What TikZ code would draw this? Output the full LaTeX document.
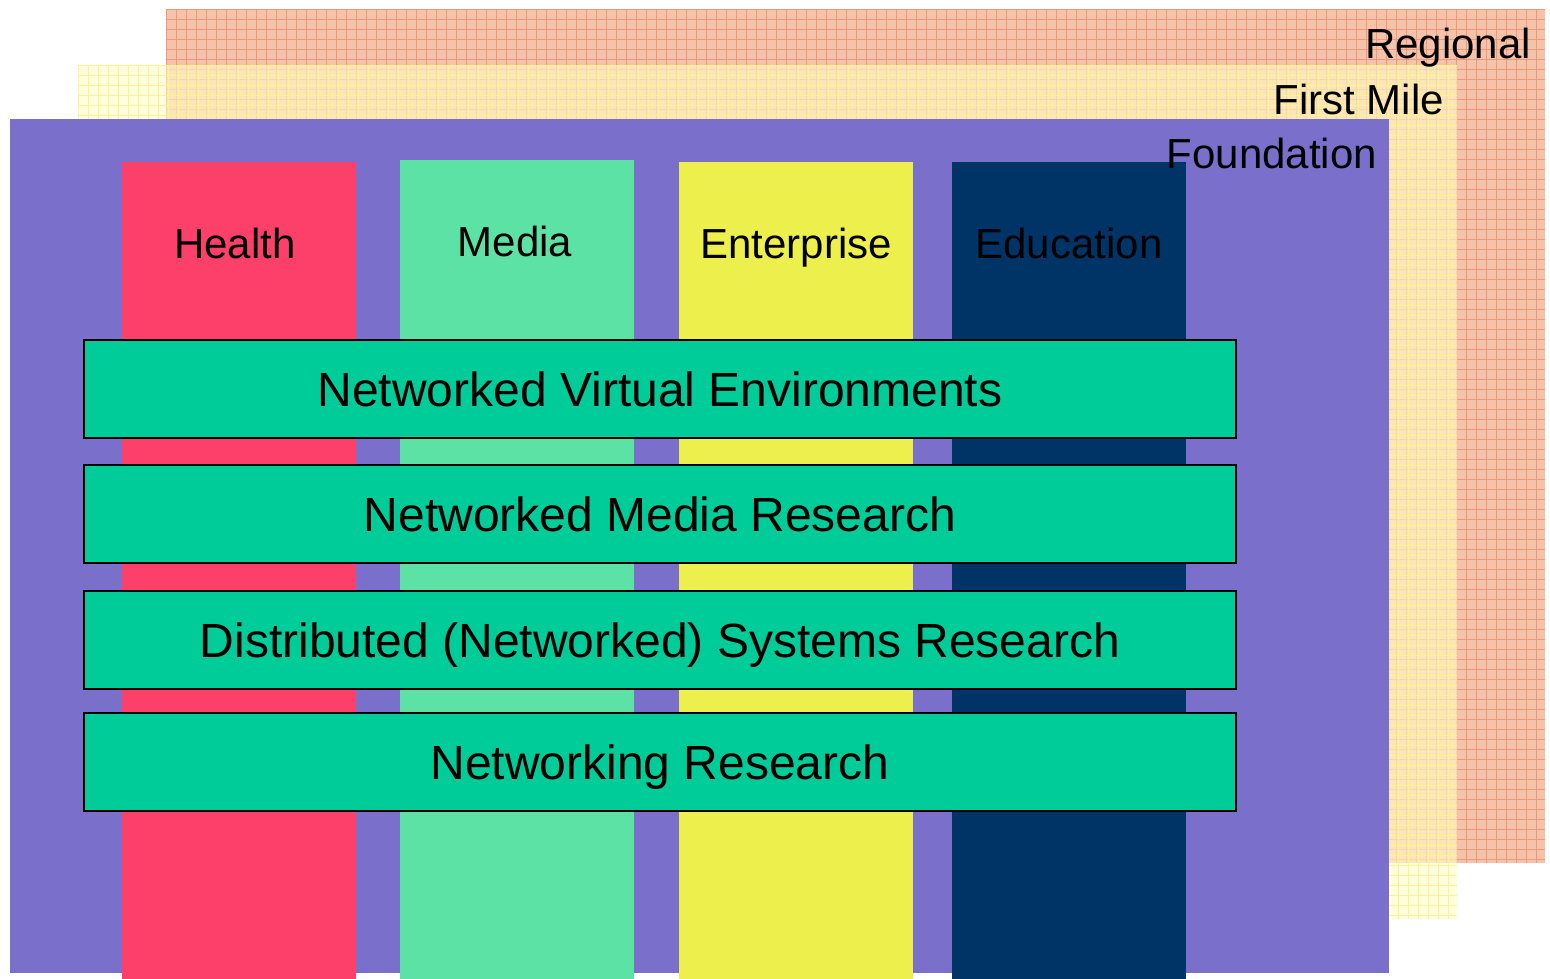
\documentclass[tikz,border=0pt]{standalone}
\usepackage{fontspec}
\setmainfont{Liberation Sans}
\definecolor{regfill}{HTML}{F5C2AA}
\definecolor{regline}{HTML}{EE9A7A}
\definecolor{fmfill}{HTML}{FFFFC6}
\definecolor{fmline}{HTML}{FFF290}
\definecolor{foundfill}{HTML}{7B6FCC}
\definecolor{healthc}{HTML}{FC4069}
\definecolor{mediac}{HTML}{5DE2A6}
\definecolor{enterc}{HTML}{ECEF4C}
\definecolor{educc}{HTML}{003366}
\definecolor{barc}{HTML}{00CC99}
\begin{document}
\begin{tikzpicture}[x=1pt,y=-1pt,
  layer/.style={anchor=north west,inner sep=0pt,outer sep=0pt,minimum width=1379pt,minimum height=854pt},
  column/.style={anchor=north west,inner sep=0pt,outer sep=0pt,minimum width=234pt,minimum height=820pt},
  bar/.style={anchor=north west,inner sep=0pt,outer sep=0pt,draw=black,line width=1.2pt,fill=barc,
    minimum width=1152pt,minimum height=98pt},
  bartext/.style={inner sep=0pt,text height=34.5pt,text depth=0pt,font=\fontsize{48}{52}\selectfont},
  coltext/.style={inner sep=0pt,text height=30.2pt,text depth=0pt,font=\fontsize{42}{46}\selectfont},
  laytext/.style={coltext,anchor=east}]
\useasboundingbox (0,0) rectangle (1550,979);

% Regional layer with its grid texture
\node[layer,fill=regfill] (regional) at (166,9) {};
\begin{scope}
  \clip (166,9) rectangle (1545,863);
  \foreach \gx in {166,176,...,1546} \draw[regline,line width=0.7pt] (\gx,9) -- (\gx,863);
  \foreach \gy in {9,19,...,864} \draw[regline,line width=0.7pt] (166,\gy) -- (1545,\gy);
\end{scope}

% First Mile layer, partly see-through
\node[layer,fill=fmfill,fill opacity=0.6] (firstmile) at (78,65) {};
\begin{scope}
  \clip (78,65) rectangle (1457,919);
  \foreach \gx in {78,88,...,1458} \draw[fmline,line width=0.9pt] (\gx,65) -- (\gx,919);
  \foreach \gy in {65,75,...,920} \draw[fmline,line width=0.9pt] (78,\gy) -- (1457,\gy);
\end{scope}

% Foundation layer
\node[layer,fill=foundfill] (foundation) at (10,119) {};

\node[laytext] (lregional) at (1531,43) {Regional};
\node[laytext] (lfirstmile) at (1444,99) {First Mile};

% Application columns
\node[column,fill=healthc] (health) at (122,162) {};
\node[column,fill=mediac] (media) at (400,160) {};
\node[column,fill=enterc] (enterprise) at (679,162) {};
\node[column,fill=educc] (education) at (952,162) {};

\node[laytext] (lfoundation) at (1377,153) {Foundation};

\node[coltext] (thealth) at (235,243) {Health};
\node[coltext] (tmedia) at (515,241) {Media};
\node[coltext] (tenter) at (796,243) {Enterprise};
\node[coltext] (teduc) at (1069,243) {Education};

% Research bars
\node[bar] (nve) at (84,340) {};
\node[bartext] at (nve.center) {Networked Virtual Environments};
\node[bar] (nmr) at (84,465) {};
\node[bartext] at (nmr.center) {Networked Media Research};
\node[bar] (dsr) at (84,591) {};
\node[bartext] at (dsr.center) {Distributed (Networked) Systems Research};
\node[bar] (nr) at (84,713) {};
\node[bartext] at (nr.center) {Networking Research};
\end{tikzpicture}
\end{document}
